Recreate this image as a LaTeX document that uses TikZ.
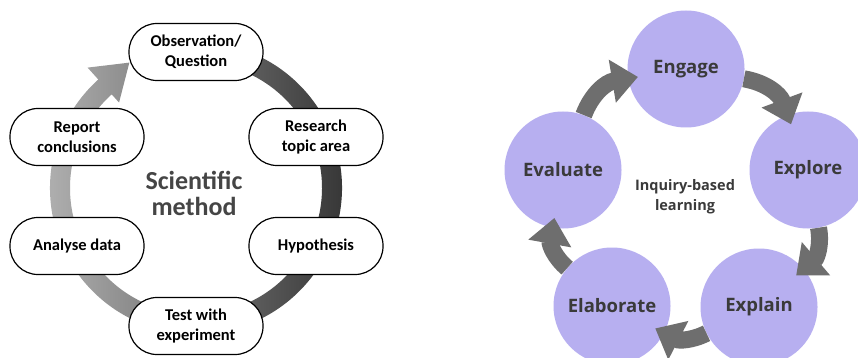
\documentclass[tikz,border=0pt]{standalone}
\usepackage{fontspec}
\newfontfamily\calfont{Carlito}
\newfontfamily\osfont{Open Sans}
\usetikzlibrary{arrows.meta,shadings}
\definecolor{lav}{HTML}{B7AFF0}
\definecolor{agray}{HTML}{6E6E6E}
\definecolor{txt}{HTML}{3A3A3A}
\begin{document}
\begin{tikzpicture}[x=1pt,y=1pt,
  stepnode/.style={draw=black,line width=1.2pt,fill=white,rounded corners=28pt,
    minimum width=134pt,minimum height=57pt,align=center,inner sep=0pt,
    font=\calfont\bfseries\fontsize{16.5}{20}\selectfont},
  phase/.style={circle,fill=lav,minimum size=117pt,inner sep=0pt,
    font=\osfont\bfseries\fontsize{18.5}{22}\selectfont,text=txt},
  cyc/.style={draw=agray,line width=17pt,shorten >=-10pt,
    -{Triangle[width=42pt,length=26pt]}}]
\useasboundingbox (0,0) rectangle (858,-358);
\fill[white] (0,0) rectangle (858,-358);

% ---- left: scientific method ----
\coordinate (C) at (196,-188);
\shade[left color=black!30, middle color=black!55, right color=black!80]
  ([shift={(80:146)}]C) arc[start angle=80,end angle=-228,radius=146pt]
  -- ([shift={(-228:162)}]C) -- ([shift={(-242:142)}]C)
  -- ([shift={(-228:115)}]C) -- ([shift={(-228:126)}]C)
  arc[start angle=-228,end angle=80,radius=126pt] -- cycle;

\node[stepnode] (obs) at (196,-52) {Observation/\\Question};
\node[stepnode] (res) at (316,-137) {Research\\topic area};
\node[stepnode] (hyp) at (316,-246) {Hypothesis};
\node[stepnode] (test) at (196,-326) {Test with\\experiment};
\node[stepnode] (ana) at (77,-246) {Analyse data};
\node[stepnode] (rep) at (77,-137) {Report\\conclusions};
\node[font=\calfont\bfseries\fontsize{26}{26}\selectfont,text=black!73,align=center]
  (sm) at (194,-193) {Scientific\\method};

% ---- right: inquiry-based learning ----
\node[phase] (eng) at (686,-69) {Engage};
\node[phase] (exp) at (808,-170) {Explore};
\node[phase] (expl) at (759,-307) {Explain};
\node[phase] (ela) at (612,-306) {Elaborate};
\node[phase] (eva) at (563,-170) {Evaluate};
\node[font=\osfont\bfseries\fontsize{14.5}{20}\selectfont,text=txt,align=center]
  (ibl) at (685,-197) {Inquiry-based\\learning};

\draw[cyc] (eng) to[bend left=30] (exp);
\draw[cyc] (exp) to[bend left=30] (expl);
\draw[cyc] (expl) to[bend left=27] (ela);
\draw[cyc] (ela) to[bend left=30] (eva);
\draw[cyc] (eva) to[bend left=30] (eng);
\end{tikzpicture}
\end{document}
